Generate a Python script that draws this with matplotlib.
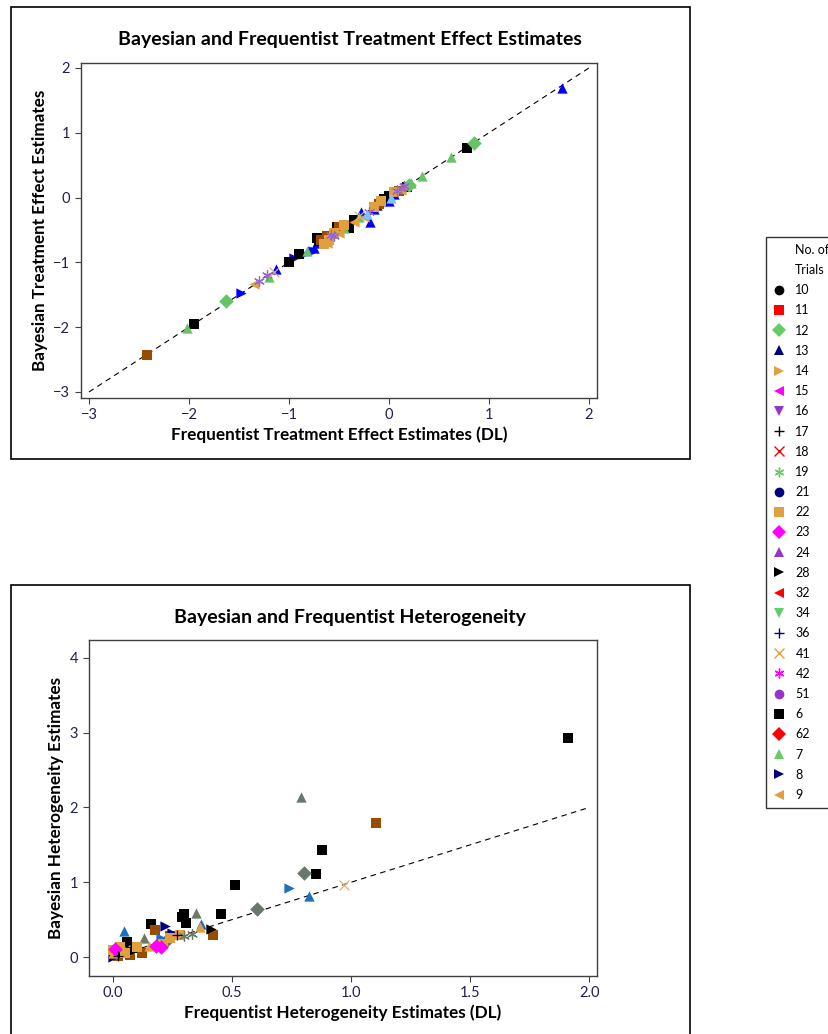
import matplotlib.pyplot as plt
from matplotlib.lines import Line2D
from matplotlib.patches import Rectangle

plt.rcParams['font.family'] = ['Lato', 'DejaVu Sans']

# ---------- datos: efectos de tratamiento ----------
te_freq = [1.73, 0.00, -0.19, -0.15, -0.05, -0.28, -0.75, -0.72, -1.13, -0.12, 0.05,
           -0.85, -0.95, -1.48, -0.76, -0.68,
           0.78, 0.18, -0.40, -0.35, -0.90, -1.00, -1.95, -0.70, -0.72, -0.52, 0.00, -0.05,
           0.85, -1.63, 0.20,
           0.62, 0.33, 0.22, -2.02, -0.45, -0.30, -0.55, -0.82, -1.20, -0.60,
           -2.42, -0.50, -0.62, -0.10, 0.10, -0.68,
           -0.60, -0.65, -0.55, -0.15, -0.08, 0.05, -0.45,
           -1.35, -0.62, -0.35, -0.25, 0.12, -0.50,
           0.12, 0.15, -1.22, -1.30, -0.58, -0.55, -0.20, 0.08,
           -0.22, 0.02,
           -0.30, -1.15]
te_bayes = [1.69, -0.05, -0.37, -0.17, -0.04, -0.22, -0.78, -0.70, -1.10, -0.12, 0.05,
            -0.87, -0.93, -1.47, -0.83, -0.66,
            0.76, 0.17, -0.47, -0.35, -0.87, -1.00, -1.95, -0.67, -0.62, -0.45, 0.02, -0.02,
            0.84, -1.60, 0.20,
            0.62, 0.34, 0.22, -2.02, -0.47, -0.30, -0.52, -0.83, -1.22, -0.57,
            -2.43, -0.45, -0.60, -0.10, 0.10, -0.65,
            -0.65, -0.72, -0.55, -0.15, -0.05, 0.08, -0.42,
            -1.33, -0.70, -0.38, -0.30, 0.12, -0.55,
            0.15, 0.18, -1.20, -1.28, -0.58, -0.60, -0.23, 0.10,
            -0.25, 0.00,
            -0.28, -1.15]
te_kind = (['tri_blue'] * 11 + ['rtri_blue'] * 5 + ['sq_black'] * 12 + ['dia_green'] * 3 +
           ['tri_green'] * 10 + ['sq_brown'] * 6 + ['sq_orange'] * 7 + ['ltri_orange'] * 6 +
           ['ast_purple'] * 8 + ['tri_lightblue'] * 2 + ['x_tan'] * 2)

# ---------- datos: heterogeneidad ----------
het_freq = [1.91, 0.878, 0.853, 0.514, 0.454, 0.289, 0.300, 0.307, 0.160, 0.057, 0.10, 0.03, 0.07,
            0.79, 0.349, 0.13, 0.05,
            1.106, 0.419, 0.178, 0.24, 0.07, 0.12, 0.02,
            0.804, 0.605, 0.22,
            0.741, 0.20,
            0.822, 0.046, 0.37, 0.20, 0.02,
            0.97, 0.05,
            0.41, 0.08, 0.03,
            0.22, 0.25, 0.00,
            0.24, 0.10, 0.00, 0.05, 0.21, 0.28, 0.03,
            0.366, 0.15, 0.00,
            0.20, 0.01, 0.18,
            0.33, 0.30,
            0.27, 0.02]
het_bayes = [2.93, 1.43, 1.11, 0.96, 0.575, 0.54, 0.58, 0.46, 0.44, 0.20, 0.12, 0.05, 0.10,
             2.14, 0.59, 0.26, 0.08,
             1.79, 0.30, 0.36, 0.28, 0.03, 0.05, 0.01,
             1.12, 0.64, 0.20,
             0.92, 0.25,
             0.81, 0.35, 0.44, 0.22, 0.07,
             0.96, 0.10,
             0.38, 0.08, 0.04,
             0.42, 0.32, 0.00,
             0.26, 0.14, 0.10, 0.05, 0.18, 0.30, 0.13,
             0.40, 0.15, 0.05,
             0.13, 0.11, 0.15,
             0.31, 0.28,
             0.29, 0.02]
het_kind = (['sq_black'] * 13 + ['tri_gray'] * 4 + ['sq_brown'] * 7 + ['dia_gray'] * 3 +
            ['rtri_steel'] * 2 + ['tri_steel'] * 5 + ['x_tan'] * 2 + ['rtri_black'] * 3 +
            ['rtri_navy'] * 3 + ['sq_orange'] * 7 + ['tri_orange'] * 3 + ['dia_magenta'] * 3 +
            ['ast_gray'] * 2 + ['plus_black'] * 2)

# estilos de los puntos en las graficas
estilos = {
    'tri_blue': ('^', '#0000ff'), 'rtri_blue': ('>', '#0000ff'), 'sq_black': ('s', 'black'),
    'dia_green': ('D', '#66c466'), 'tri_green': ('^', '#66c466'), 'sq_brown': ('s', '#994c00'),
    'sq_orange': ('s', '#e0a040'), 'ltri_orange': ('<', '#e0a040'), 'tri_orange': ('^', '#e0a040'),
    'ast_purple': ((6, 2, 0), '#9966cc'), 'tri_lightblue': ('^', '#80c0ff'), 'x_tan': ('x', '#e0b070'),
    'tri_gray': ('^', '#6a786a'), 'dia_gray': ('D', '#6a786a'), 'rtri_steel': ('>', '#1f6fbf'),
    'tri_steel': ('^', '#1f6fbf'), 'rtri_black': ('>', 'black'), 'rtri_navy': ('>', '#000080'),
    'dia_magenta': ('D', '#ff00ff'), 'ast_gray': ((6, 2, 0), '#6a786a'), 'plus_black': ('+', 'black'),
}

# leyenda: numero de ensayos
trials = ['10', '11', '12', '13', '14', '15', '16', '17', '18', '19', '21', '22', '23',
          '24', '28', '32', '34', '36', '41', '42', '51', '6', '62', '7', '8', '9']
ley_marcadores = ['o', 's', 'D', '^', '>', '<', 'v', '+', 'x', (6, 2, 0)]
ley_colores = ['black', 'red', '#66cc66', '#00007f', '#e0a040', '#ff00ff', '#9933cc']

tick_color = '#202050'

fig = plt.figure(figsize=(8.29, 10.34), dpi=100)

# marcos exteriores
fig.patches.append(Rectangle((0.0127, 0.5561), 0.8197, 0.4376, transform=fig.transFigure,
                             fill=False, edgecolor='black', linewidth=1.2))
fig.patches.append(Rectangle((0.0127, -0.05), 0.8197, 0.4842, transform=fig.transFigure,
                             fill=False, edgecolor='black', linewidth=1.2))


def dibujar(ax, xs, ys, kinds):
    for x, y, k in zip(xs, ys, kinds):
        m, c = estilos[k]
        if m in ('x', '+') or isinstance(m, tuple):
            ax.scatter(x, y, marker=m, s=50, color=c, linewidths=0.9, zorder=3)
        else:
            ax.scatter(x, y, marker=m, s=55, color=c, linewidths=0, zorder=3)


def estilo_ejes(ax):
    for sp in ax.spines.values():
        sp.set_color('#404040')
        sp.set_linewidth(1.0)
    ax.tick_params(direction='out', length=4, width=0.8, color='#404040',
                   labelcolor=tick_color, labelsize=10.5)


#--------- EFECTO DEL TRATAMIENTO ----------#
ax1 = fig.add_axes([0.0973, 0.6151, 0.6228, 0.3240])
ax1.plot([-3, 2], [-3, 2], linestyle=(0, (5, 4)), color='black', linewidth=0.8, zorder=2)
dibujar(ax1, te_freq, te_bayes, te_kind)
ax1.set_xlim(-3.083, 2.08)
ax1.set_ylim(-3.093, 2.077)
ax1.set_xticks([-3, -2, -1, 0, 1, 2])
ax1.set_yticks([-3, -2, -1, 0, 1, 2])
estilo_ejes(ax1)
# el titulo va centrado en el marco exterior
fig.text(0.4225, 1 - 40 / 1034, 'Bayesian and Frequentist Treatment Effect Estimates',
         fontsize=14, fontweight='bold', ha='center', va='center')
ax1.set_xlabel('Frequentist Treatment Effect Estimates (DL)', fontsize=12.3,
               fontweight='bold', labelpad=3)
ax1.set_ylabel('Bayesian Treatment Effect Estimates', fontsize=12.3, fontweight='bold')

#--------- HETEROGENEIDAD ----------#
ax2 = fig.add_axes([0.1070, 0.0561, 0.6128, 0.3249])
ax2.plot([0, 2], [0, 2], linestyle=(0, (5, 4)), color='black', linewidth=0.8, zorder=2)
dibujar(ax2, het_freq, het_bayes, het_kind)
ax2.set_xlim(-0.102, 2.032)
ax2.set_ylim(-0.254, 4.24)
ax2.set_xticks([0.0, 0.5, 1.0, 1.5, 2.0])
ax2.set_xticklabels(['0.0', '0.5', '1.0', '1.5', '2.0'])
ax2.set_yticks([0, 1, 2, 3, 4])
estilo_ejes(ax2)
fig.text(0.4225, 1 - 618 / 1034, 'Bayesian and Frequentist Heterogeneity',
         fontsize=14, fontweight='bold', ha='center', va='center')
ax2.set_xlabel('Frequentist Heterogeneity Estimates (DL)', fontsize=12.3,
               fontweight='bold', labelpad=3)
ax2.set_ylabel('Bayesian Heterogeneity Estimates', fontsize=12.3, fontweight='bold')

#--------- LEYENDA ----------#
handles = [Line2D([], [], linestyle='none'), Line2D([], [], linestyle='none')]
labels = ['No. of', 'Trials']
for i, t in enumerate(trials):
    m = ley_marcadores[i % 10]
    c = ley_colores[i % 7]
    handles.append(Line2D([], [], linestyle='none', marker=m, color=c, markersize=7,
                          markeredgewidth=1.0 if m in ('x', '+') or isinstance(m, tuple) else 0))
    labels.append(t)
leg = fig.legend(handles, labels, loc='upper left', bbox_to_anchor=(0.924, 0.7708),
                 fontsize=9, frameon=True, fancybox=False, edgecolor='black',
                 labelspacing=0.655, handlelength=1.0, handletextpad=0.8,
                 borderpad=0.55, borderaxespad=0)
leg.get_frame().set_linewidth(1.0)

plt.savefig('out.png', dpi=100)
